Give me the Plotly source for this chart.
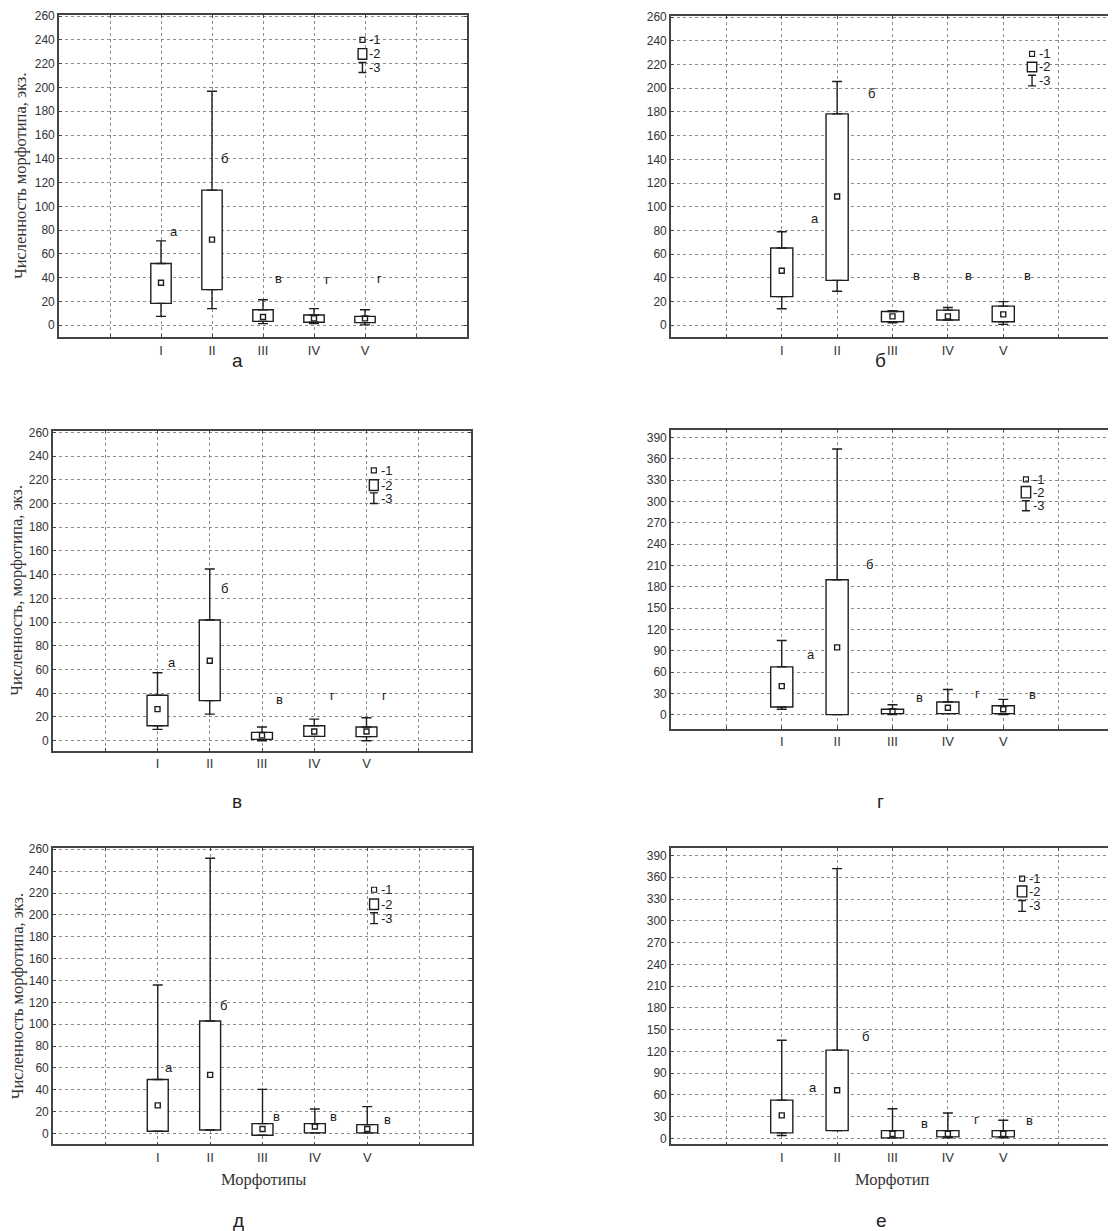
import plotly.graph_objects as go

OFF = 8            # default page margin of the HTML body
W, H = 1116 - OFF, 1231 - OFF

cats = ["I", "II", "III", "IV", "V"]
cat_pos = [1, 2, 3, 4, 5]

# ---- panel а
a_min = [7.5, 14, 1.4, 1.4, 0.3]
a_q1 = [18.4, 30, 3.3, 2.5, 2.2]
a_med = [35.7, 72, 7, 5.8, 5.8]
a_q3 = [52, 113.7, 13, 8.6, 7.5]
a_max = [71, 196.8, 21.5, 14, 13]
a_letters = ["а", "б", "в", "г", "г"]
a_lx = [1.25, 2.24, 3.31, 4.27, 5.29]
a_ly = [79, 140, 39, 38.5, 39]

# ---- panel б
b_min = [13.9, 28.7, 2.2, 4.5, 0.8]
b_q1 = [24.2, 37.9, 3, 4.5, 3]
b_med = [46, 108.7, 7.5, 7.5, 9.2]
b_q3 = [65.2, 178.4, 11.7, 12.8, 16.2]
b_max = [78.9, 205.7, 12.3, 15, 20]
b_letters = ["а", "б", "в", "в", "в"]
b_lx = [1.6, 2.62, 3.43, 4.38, 5.44]
b_ly = [90, 196, 42, 42, 42]

# ---- panel в
v_min = [9.5, 22.4, 0, 3.6, 0]
v_q1 = [12.6, 33.8, 1.1, 3.6, 3.4]
v_med = [26.6, 67.4, 4.5, 7.8, 7.8]
v_q3 = [38.3, 101.8, 7, 12.6, 11.5]
v_max = [57.3, 144.8, 11.5, 18.2, 19.3]
v_letters = ["а", "б", "в", "г", "г"]
v_lx = [1.28, 2.28, 3.33, 4.34, 5.34]
v_ly = [66, 128, 35, 38, 38]

# ---- panel г
g_min = [7.9, 0.5, 0.5, 1.9, 0.5]
g_q1 = [11.2, 0.5, 1.9, 1.9, 1.9]
g_med = [40.5, 94.9, 5.1, 10.2, 7.9]
g_q3 = [67.5, 189.9, 7.9, 18.1, 13]
g_max = [104.7, 373.7, 14.4, 35.8, 21.9]
g_letters = ["а", "б", "в", "г", "в"]
g_lx = [1.53, 2.59, 3.49, 4.53, 5.52]
g_ly = [85, 212, 24, 30, 29]

# ---- panel д
d_min = [2.1, 3.3, -1.5, 0.6, 0.6]
d_q1 = [2.1, 3.3, -1.5, 0.6, 0.6]
d_med = [25.8, 53.7, 4.2, 6.4, 4.2]
d_q3 = [49.5, 102.9, 9.1, 9.1, 8.2]
d_max = [135.9, 251.8, 40.4, 22.5, 24.6]
d_letters = ["а", "б", "в", "в", "в"]
d_lx = [1.21, 2.25, 3.27, 4.36, 5.39]
d_ly = [60, 117, 16, 16, 13]

# ---- panel е
e_min = [4.1, 10.9, 0.9, 0.9, 0.9]
e_q1 = [7.8, 10.9, 0.9, 2.3, 2.3]
e_med = [31.9, 66.6, 6.4, 6.4, 6.4]
e_q3 = [52.9, 121.8, 10.9, 10.9, 10.9]
e_max = [135.5, 371.8, 41.1, 35.1, 25.1]
e_letters = ["а", "б", "в", "г", "в"]
e_lx = [1.56, 2.52, 3.58, 4.52, 5.47]
e_ly = [71, 140, 21, 26, 25]

# legend keys: x, square y, box (low, high), whisker (low, high)
leg_a = [4.95, 240, 223.8, 232.7, 212.6, 221]
leg_b = [5.52, 229, 214, 222, 202, 211]
leg_v = [5.14, 228, 211, 220, 200, 209]
leg_g = [5.41, 331, 305, 321, 287, 301]
leg_d = [5.13, 223, 205, 214.5, 192, 202]
leg_e = [5.34, 358, 333, 348, 313, 328]
leg_labels = ["-1", "-2", "-3"]

panel_names = ["а", "б", "в", "г", "д", "е"]
y_title_main = "Численность морфотипа, экз."
y_title_v = "Численность, морфотипа, экз."
x_title_d = "Морфотипы"
x_title_e = "Морфотип"

panels = [
    dict(mn=a_min, q1=a_q1, md=a_med, q3=a_q3, mx=a_max, let=a_letters, lx=a_lx, ly=a_ly, leg=leg_a,
         box=(59, 467, 9, 333), yr=(-10, 261), dt=20, lab=(237, 356)),
    dict(mn=b_min, q1=b_q1, md=b_med, q3=b_q3, mx=b_max, let=b_letters, lx=b_lx, ly=b_ly, leg=leg_b,
         box=(671, 1114, 10, 333), yr=(-10, 261), dt=20, lab=(880, 356)),
    dict(mn=v_min, q1=v_q1, md=v_med, q3=v_q3, mx=v_max, let=v_letters, lx=v_lx, ly=v_ly, leg=leg_v,
         box=(53, 471, 427, 749), yr=(-8.5, 261.5), dt=20, lab=(237, 800)),
    dict(mn=g_min, q1=g_q1, md=g_med, q3=g_q3, mx=g_max, let=g_letters, lx=g_lx, ly=g_ly, leg=leg_g,
         box=(671, 1114, 426, 727), yr=(-19.6, 401), dt=30, lab=(880, 800)),
    dict(mn=d_min, q1=d_q1, md=d_med, q3=d_q3, mx=d_max, let=d_letters, lx=d_lx, ly=d_ly, leg=leg_d,
         box=(53, 472, 847, 1145), yr=(-10, 261), dt=20, lab=(238, 1221)),
    dict(mn=e_min, q1=e_q1, md=e_med, q3=e_q3, mx=e_max, let=e_letters, lx=e_lx, ly=e_ly, leg=leg_e,
         box=(671, 1114, 847, 1145), yr=(-8.2, 400), dt=30, lab=(881, 1221)),
]


def fx(px):
    return (px - OFF) / W


def fy(py):
    return 1 - (py - OFF) / H


fig = go.Figure()
ink = "#1e1e1e"
gridc = "#8c8c8c"
ytickfont = dict(family="Liberation Sans Narrow, Liberation Sans, Arial", size=12, color="#333333")
xtickfont = dict(family="Liberation Sans, Arial", size=13, color="#333333")
annotations = []


def ann(**kw):
    d = dict(showarrow=False, xanchor="center", yanchor="middle")
    d.update(kw)
    annotations.append(d)


for i, p in enumerate(panels):
    k = "" if i == 0 else str(i + 1)
    xa, ya = "x" + k, "y" + k
    x0, x1, y0, y1 = p["box"]
    # box (25%-75%)
    fig.add_trace(go.Bar(
        x=cat_pos, y=[b - a for a, b in zip(p["q1"], p["q3"])], base=p["q1"], width=0.4,
        marker=dict(color="white", line=dict(color=ink, width=1.4)),
        xaxis=xa, yaxis=ya, showlegend=False, hoverinfo="skip"))
    # upper whisker
    fig.add_trace(go.Scatter(
        x=cat_pos, y=p["q3"], mode="markers", marker=dict(size=1, opacity=0),
        error_y=dict(type="data", symmetric=False,
                     array=[b - a for a, b in zip(p["q3"], p["mx"])],
                     arrayminus=[0] * 5, color=ink, thickness=1.4, width=5),
        xaxis=xa, yaxis=ya, showlegend=False, hoverinfo="skip"))
    # lower whisker
    fig.add_trace(go.Scatter(
        x=cat_pos, y=p["q1"], mode="markers", marker=dict(size=1, opacity=0),
        error_y=dict(type="data", symmetric=False, array=[0] * 5,
                     arrayminus=[a - b for a, b in zip(p["q1"], p["mn"])],
                     color=ink, thickness=1.4, width=5),
        xaxis=xa, yaxis=ya, showlegend=False, hoverinfo="skip"))
    # median
    fig.add_trace(go.Scatter(
        x=cat_pos, y=p["md"], mode="markers",
        marker=dict(symbol="square-open", size=5, color=ink, line=dict(width=1.4)),
        xaxis=xa, yaxis=ya, showlegend=False, hoverinfo="skip"))

    # legend key
    lgx, lsq, lb0, lb1, lw0, lw1 = p["leg"]
    fig.add_trace(go.Scatter(
        x=[lgx], y=[lsq], mode="markers",
        marker=dict(symbol="square-open", size=5, color=ink, line=dict(width=1.2)),
        xaxis=xa, yaxis=ya, showlegend=False, hoverinfo="skip"))
    fig.add_trace(go.Bar(
        x=[lgx], y=[lb1 - lb0], base=[lb0], width=0.17,
        marker=dict(color="white", line=dict(color=ink, width=1.4)),
        xaxis=xa, yaxis=ya, showlegend=False, hoverinfo="skip"))
    fig.add_trace(go.Scatter(
        x=[lgx], y=[lw0], mode="markers", marker=dict(size=1, opacity=0),
        error_y=dict(type="data", symmetric=False, array=[lw1 - lw0], arrayminus=[0],
                     color=ink, thickness=1.4, width=4),
        xaxis=xa, yaxis=ya, showlegend=False, hoverinfo="skip"))
    for lab, yy in zip(leg_labels, [lsq, (lb0 + lb1) / 2, (lw0 + lw1) / 2]):
        ann(x=lgx, y=yy, xref=xa, yref=ya, text=lab, xanchor="left", xshift=5,
            font=dict(family="Liberation Sans, Arial", size=13, color="#222222"))

    # group letters
    for t, lx, ly in zip(p["let"], p["lx"], p["ly"]):
        ann(x=lx, y=ly, xref=xa, yref=ya, text=t,
            font=dict(family="Liberation Sans, Arial", size=13, color="#1a1a1a"))

    axis_common = dict(showgrid=True, gridcolor=gridc, griddash="dot", gridwidth=1,
                       showline=True, linecolor="#444444", linewidth=1.6, mirror="ticks",
                       zeroline=False, ticks="inside", ticklen=3, tickcolor="#444444")
    fig.layout["xaxis" + k] = dict(domain=[fx(x0), fx(x1)], range=[-1, 7], anchor=ya,
                                   tickvals=[0, 1, 2, 3, 4, 5, 6],
                                   ticktext=[""] + cats + [""], tickfont=xtickfont, **axis_common)
    fig.layout["yaxis" + k] = dict(domain=[fy(y1), fy(y0)], range=list(p["yr"]), anchor=xa,
                                   tick0=0, dtick=p["dt"], tickfont=ytickfont, **axis_common)

    # panel letter
    ann(x=fx(p["lab"][0]), y=fy(p["lab"][1]), xref="paper", yref="paper", text=panel_names[i],
        font=dict(family="Liberation Sans Narrow, Liberation Sans, Arial", size=19, color="#222222"))

# axis titles
serif = dict(family="Liberation Serif, Times New Roman, serif", size=16.5, color="#333333")
for txt, yc, xc in [(y_title_main, 171, 20), (y_title_v, 588, 17), (y_title_main, 996, 17)]:
    ann(x=fx(xc), y=fy(yc), xref="paper", yref="paper", text=txt, textangle=-90, font=serif)
ann(x=fx(263), y=fy(1180), xref="paper", yref="paper", text=x_title_d, font=serif)
ann(x=fx(892), y=fy(1180), xref="paper", yref="paper", text=x_title_e, font=serif)

fig.update_layout(width=W, height=H, margin=dict(l=0, r=0, t=0, b=0),
                  paper_bgcolor="white", plot_bgcolor="white", barmode="overlay",
                  annotations=annotations, showlegend=False)

fig.write_html("out.html")
